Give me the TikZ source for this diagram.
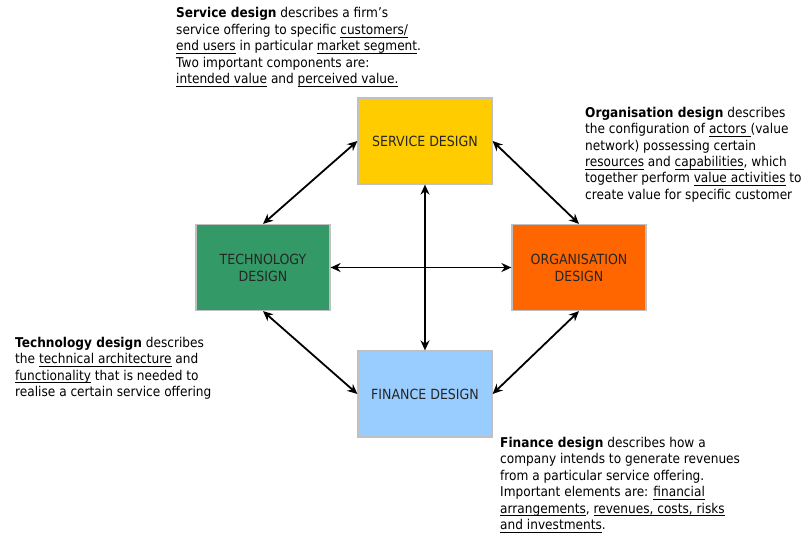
\documentclass[tikz,border=0pt]{standalone}
\usepackage{fontspec}
\setmainfont{DejaVu Sans}[FakeStretch=0.9]
\usetikzlibrary{arrows.meta}
\definecolor{svcfill}{HTML}{FFCC00}
\definecolor{techfill}{HTML}{339966}
\definecolor{orgfill}{HTML}{FF6600}
\definecolor{finfill}{HTML}{99CCFF}
\definecolor{boxline}{HTML}{C0C0C0}
% underline set a fixed distance below the baseline
\newsavebox\lineunderbox
\newcommand{\lineunder}[1]{\leavevmode\sbox\lineunderbox{#1}\rlap{\rule[-3pt]{\wd\lineunderbox}{0.9pt}}\usebox\lineunderbox}
\newcommand{\notetext}[1]{\parbox[t]{340pt}{\fontsize{13.5}{16.5}\selectfont\raggedright #1}}
\begin{document}
\begin{tikzpicture}[x=1pt,y=-1pt,
  designbox/.style={draw=boxline, line width=1.2pt, minimum width=134pt, minimum height=86pt,
    inner sep=0pt, align=center, text=black!85, font=\fontsize{14}{17}\selectfont},
  link/.style={line width=1.8pt, {Stealth[length=10pt,width=9pt]}-{Stealth[length=10pt,width=9pt]}},
  note/.style={anchor=base west, inner sep=0pt}]
\useasboundingbox (0,0) rectangle (811,535);
\clip (0,0) rectangle (811,535);
\fill[white] (0,0) rectangle (811,535);

% the four design domains
\node[designbox, fill=svcfill] (svc) at (425,141) {SERVICE DESIGN};
\node[designbox, fill=techfill] (tech) at (263,267.5) {TECHNOLOGY\\DESIGN};
\node[designbox, fill=orgfill] (org) at (579,267.5) {ORGANISATION\\DESIGN};
\node[designbox, fill=finfill] (fin) at (425,394) {FINANCE DESIGN};

% interdependencies
\draw[link] (svc.west) -- (tech.north);
\draw[link] (svc.east) -- (org.north);
\draw[link] (tech.south) -- (fin.west);
\draw[link] (org.south) -- (fin.east);
\draw[link] (svc.south) -- (fin.north);
\draw[link] (tech.east) -- (org.west);

% descriptions
\node[note] (svcnote) at (176,18) {\notetext{\textbf{Service design} describes a firm's\\
service offering to specific \lineunder{customers/}\\
\lineunder{end users} in particular \lineunder{market segment}.\\
Two important components are:\\
\lineunder{intended value} and \lineunder{perceived value.}}};

\node[note] (orgnote) at (585,117) {\notetext{\textbf{Organisation design} describes\\
the configuration of \lineunder{actors }(value\\
network) possessing certain\\
\lineunder{resources} and \lineunder{capabilities}, which\\
together perform \lineunder{value activities} to\\
create value for specific customer}};

\node[note] (technote) at (15,347) {\notetext{\textbf{Technology design} describes\\
the \lineunder{technical architecture} and\\
\lineunder{functionality} that is needed to\\
realise a certain service offering}};

\node[note] (finnote) at (500,447) {\notetext{\textbf{Finance design} describes how a\\
company intends to generate revenues\\
from a particular service offering.\\
Important elements are: \lineunder{financial}\\
\lineunder{arrangements}, \lineunder{revenues, costs, risks}\\
\lineunder{and investments}.}};
\end{tikzpicture}
\end{document}
